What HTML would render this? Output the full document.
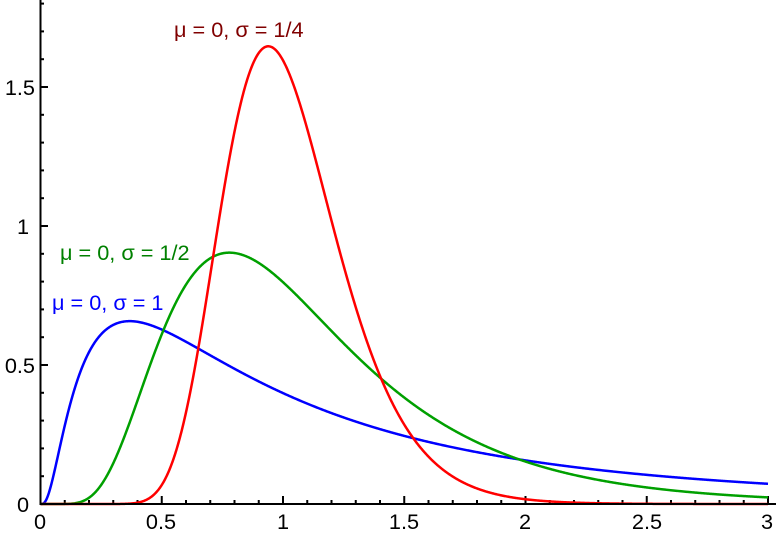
<!DOCTYPE html>
<html><head><style>body{margin:0;background:#fff}svg{display:block}text{font-family:"Liberation Sans",sans-serif;font-size:21.7px}</style></head>
<body>
<svg id="s" width="776" height="533" xmlns="http://www.w3.org/2000/svg">
<g id="ticks" stroke="#000" stroke-width="2"></g>
<g id="curves" fill="none" stroke-width="2.5"></g>
<line x1="40.5" y1="0" x2="40.5" y2="505" stroke="#000" stroke-width="2"/>
<line x1="39.5" y1="504" x2="776" y2="504" stroke="#000" stroke-width="2"/>
<g text-anchor="middle">
<text x="40" y="529">0</text><text x="161" y="529">0.5</text><text x="283" y="529">1</text><text x="404" y="529">1.5</text><text x="525" y="529">2</text><text x="647" y="529">2.5</text><text x="767" y="529">3</text>
</g>
<g text-anchor="end">
<text x="29" y="512">0</text><text x="35" y="373">0.5</text><text x="29" y="234">1</text><text x="35" y="95">1.5</text>
</g>
<text x="174" y="37" fill="#800000">μ = 0, σ = 1/4</text>
<text x="60" y="260" fill="#008000">μ = 0, σ = 1/2</text>
<text x="52" y="310" fill="#0000ff">μ = 0, σ = 1</text>
</svg>
<script>
var X=v=>40.5+v*242.5, Y=v=>504-v*278;
var t='';
for(var i=1;i<=30;i++){var x=X(i/10),L=i%5==0?8:4;t+=`<line x1="${x}" y1="504" x2="${x}" y2="${504-L}"/>`;}
for(var i=1;i<=18;i++){var y=Y(i/10),L=i%5==0?8:4;t+=`<line x1="40" y1="${y}" x2="${40+L}" y2="${y}"/>`;}
document.getElementById('ticks').innerHTML=t;
var c='';
[[1,'#0000ff'],[0.5,'#00a000'],[0.25,'#ff0000']].forEach(function(p){var s=p[0],d='';
for(var i=1;i<=1200;i++){var x=i*3/1200,f=Math.exp(-Math.pow(Math.log(x),2)/(2*s*s))/(x*s*Math.sqrt(2*Math.PI));
d+='L'+X(x).toFixed(2)+','+Y(f).toFixed(2);}
c+=`<path d="M${X(0)},${Y(0)}${d}" stroke="${p[1]}"/>`;});
document.getElementById('curves').innerHTML=c;
</script>
</body></html>
